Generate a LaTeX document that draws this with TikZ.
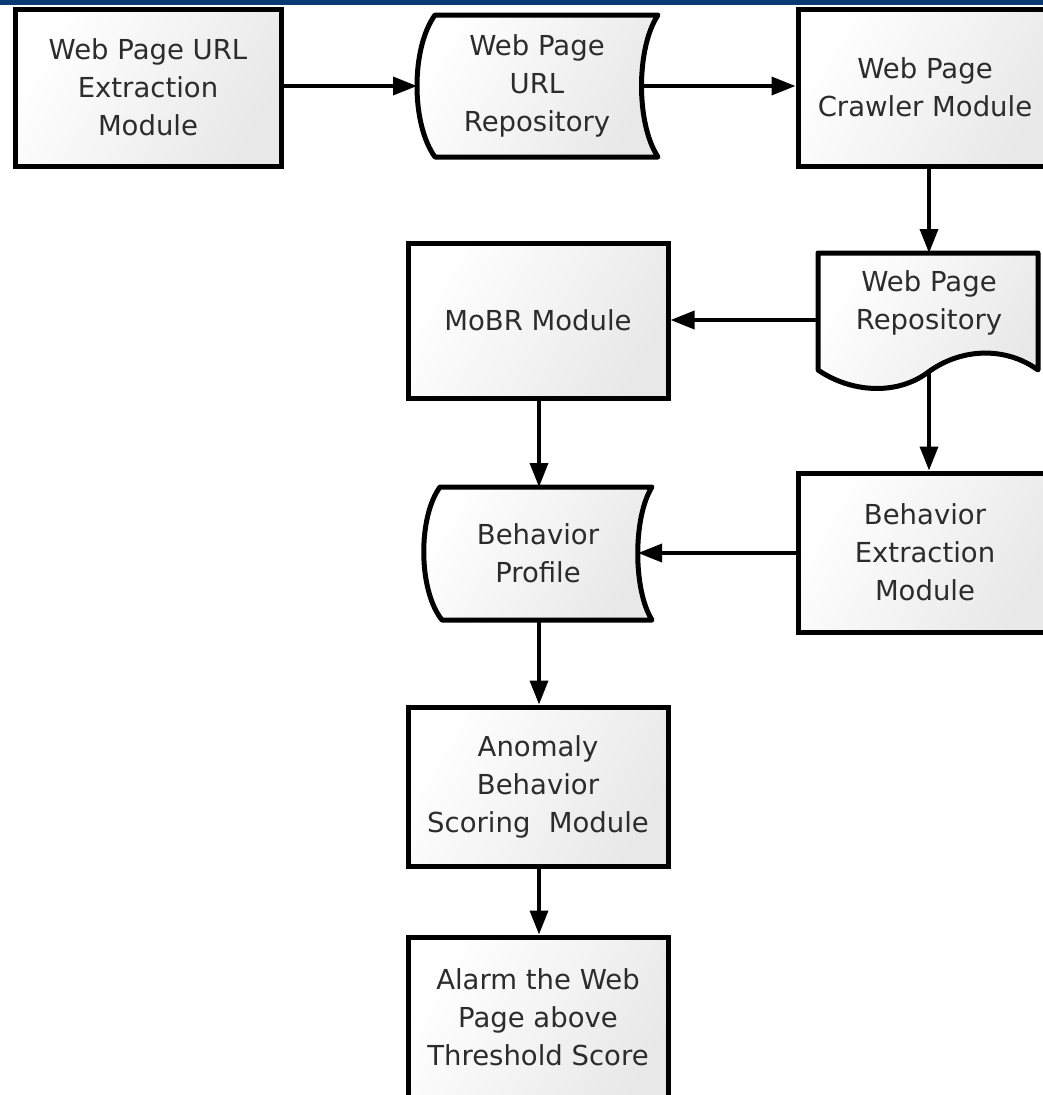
\documentclass[tikz,border=0pt]{standalone}
\usepackage{fontspec}
\setmainfont{DejaVu Sans}
\usetikzlibrary{arrows.meta}
\definecolor{navy}{HTML}{0B3A72}
\definecolor{txt}{HTML}{2C2C2C}
\tikzset{
  boxfill/.style={left color=white, right color=black!9, shading angle=60},
  modbox/.style={draw=black, line width=5pt, boxfill, align=center, text=txt,
    font=\fontsize{27.5}{38}\selectfont, inner sep=0pt},
  shapeline/.style={draw=black, line width=5pt, line join=round, boxfill},
  lbl/.style={align=center, text=txt, font=\fontsize{27.5}{38}\selectfont, inner sep=0pt},
  flow/.style={line width=3.5pt, -{Triangle[length=24pt,width=18pt]}}
}
\begin{document}
\begin{tikzpicture}[x=1pt,y=-1pt]
\useasboundingbox (0,0) rectangle (1043,1095);
\begin{scope}
\clip (0,0) rectangle (1043,1095);
\fill[white] (0,0) rectangle (1043,1095);
\fill[navy] (0,0) rectangle (1043,4.5);

% rectangular modules
\node[modbox, minimum width=266pt, minimum height=157pt] (extract) at (148,87.5)
  {Web Page URL\\Extraction\\Module};
\node[modbox, minimum width=254pt, minimum height=157pt] (crawler) at (925,87.5)
  {Web Page\\Crawler Module};
\node[modbox, minimum width=260pt, minimum height=155pt] (mobr) at (538,320.5)
  {MoBR Module};
\node[modbox, minimum width=254pt, minimum height=159pt] (bext) at (925,552.5)
  {Behavior\\Extraction\\Module};
\node[modbox, minimum width=260pt, minimum height=159pt] (anom) at (538,786.5)
  {Anomaly\\Behavior\\Scoring\hspace{0.35em} Module};
\node[modbox, minimum width=260pt, minimum height=175pt] (alarm) at (538,1024.5)
  {};
\node[lbl] (alarmtxt) at (538,1017) {Alarm the Web\\Page above\\Threshold Score};

% stored data: Web Page URL Repository
\path[shapeline] (435,15) -- (658,15)
  .. controls (636,48) and (636,124) .. (658,157) -- (435,157)
  .. controls (411,124) and (411,48) .. cycle;
\coordinate (urlL) at (417,86);
\coordinate (urlR) at (642,86);
\node[lbl] (urlrepo) at (537,86) {Web Page\\URL\\Repository};

% document: Web Page Repository
\path[shapeline] (818,253) -- (1038,253) -- (1038,370)
  .. controls (1005,346) and (960,348) .. (927,373)
  .. controls (895,396) and (850,392) .. (818,370) -- cycle;
\coordinate (docT) at (929,253);
\coordinate (docL) at (818,320);
\coordinate (docB) at (929,373);
\node[lbl] (wprepo) at (929,303) {Web Page\\Repository};

% stored data: Behavior Profile
\path[shapeline] (440,487) -- (652,487)
  .. controls (633,517) and (633,590) .. (652,620) -- (442,620)
  .. controls (418,590) and (418,517) .. cycle;
\coordinate (bpT) at (539,487);
\coordinate (bpB) at (539,620);
\coordinate (bpR) at (638,553);
\node[lbl] (bprof) at (538,553) {Behavior\\Profile};

% connectors
\draw[flow] (extract.east |- urlL) -- (urlL);
\draw[flow] (urlR) -- (crawler.west |- urlR);
\draw[flow] (docT |- crawler.south) -- (docT);
\draw[flow] (docL) -- (mobr.east |- docL);
\draw[flow] (docB) -- (docB |- bext.north);
\draw[flow] (bpT |- mobr.south) -- (bpT);
\draw[flow] (bext.west |- bpR) -- (bpR);
\draw[flow] (bpB) -- (bpB |- anom.north);
\draw[flow] (anom.south) ++(1,0) coordinate (anS) (anS) -- (anS |- alarm.north);
\end{scope}
\end{tikzpicture}
\end{document}
